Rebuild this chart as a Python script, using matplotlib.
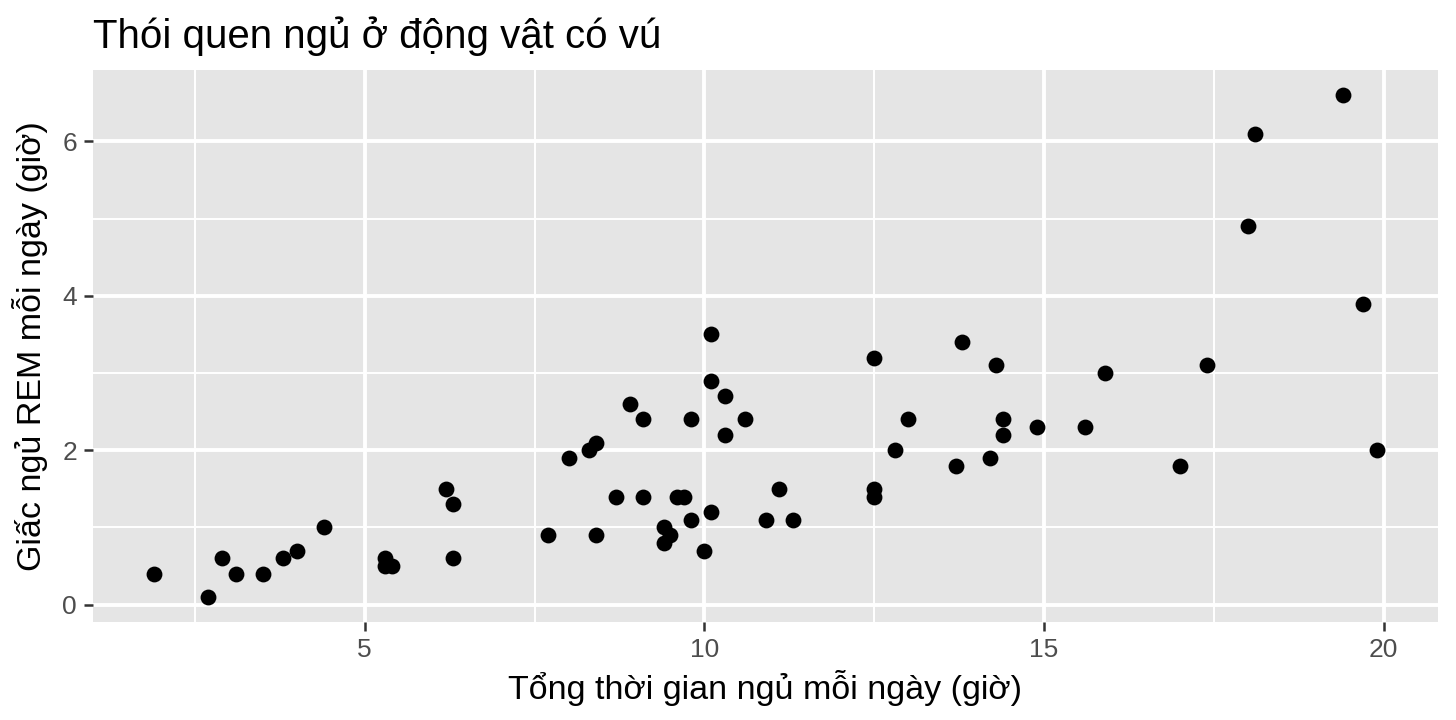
import matplotlib
matplotlib.use("Agg")
import matplotlib.pyplot as plt
from matplotlib.ticker import MultipleLocator

# msleep: tong thoi gian ngu va giac ngu REM (chi cac dong co REM)
sleep_total = [17.0, 14.4, 14.9, 4.0, 14.4, 8.7, 10.1, 5.3, 9.4, 10.0,
               12.5, 10.3, 8.3, 9.1, 17.4, 5.3, 18.0, 19.7, 2.9, 3.1,
               10.1, 10.9, 12.5, 9.8, 1.9, 2.7, 6.2, 6.3, 8.0, 9.5,
               19.4, 10.1, 14.2, 14.3, 12.5, 19.9, 7.7, 8.4, 3.8, 9.7,
               9.4, 10.3, 13.7, 3.5, 11.1, 18.1, 5.4, 13.0, 9.6, 8.4,
               11.3, 10.6, 13.8, 15.9, 12.8, 9.1, 4.4, 15.6, 8.9, 6.3,
               9.8]
sleep_rem = [1.8, 2.4, 2.3, 0.7, 2.2, 1.4, 2.9, 0.6, 0.8, 0.7,
             1.5, 2.2, 2.0, 1.4, 3.1, 0.5, 4.9, 3.9, 0.6, 0.4,
             3.5, 1.1, 3.2, 1.1, 0.4, 0.1, 1.5, 0.6, 1.9, 0.9,
             6.6, 1.2, 1.9, 3.1, 1.4, 2.0, 0.9, 0.9, 0.6, 1.4,
             1.0, 2.7, 1.8, 0.4, 1.5, 6.1, 0.5, 2.4, 1.4, 2.1,
             1.1, 2.4, 3.4, 3.0, 2.0, 2.4, 1.0, 2.3, 2.6, 1.3,
             2.4]

title = "Thói quen ngủ ở động vật có vú"
xlab = "Tổng thời gian ngủ mỗi ngày (giờ)"
ylab = "Giấc ngủ REM mỗi ngày (giờ)"

plt.rcParams['font.family'] = ['Liberation Sans', 'DejaVu Sans']

fig = plt.figure(figsize=(14.56, 7.2), dpi=100)
ax = fig.add_axes([93/1456, 1 - 622/720, (1438-93)/1456, (622-70)/720])
ax.set_facecolor('#E5E5E5')
for s in ax.spines.values():
    s.set_visible(False)

ax.scatter(sleep_total, sleep_rem, s=130, color='black', zorder=3, linewidths=0)

xr = max(sleep_total) - min(sleep_total)
yr = max(sleep_rem) - min(sleep_rem)
ax.set_xlim(min(sleep_total) - 0.05*xr, max(sleep_total) + 0.05*xr)
ax.set_ylim(min(sleep_rem) - 0.05*yr, max(sleep_rem) + 0.05*yr)

ax.xaxis.set_major_locator(MultipleLocator(5))
ax.xaxis.set_minor_locator(MultipleLocator(2.5))
ax.yaxis.set_major_locator(MultipleLocator(2))
ax.yaxis.set_minor_locator(MultipleLocator(1))
ax.grid(which='major', color='white', linewidth=2.8, zorder=0)
ax.grid(which='minor', color='white', linewidth=1.4, zorder=0)
ax.set_axisbelow(True)

ax.tick_params(which='major', length=6.5, width=1.8, color='#333333',
               labelsize=19, labelcolor='#4D4D4D', pad=5)
ax.tick_params(which='minor', length=0)

ax.set_xlabel(xlab, fontsize=24.5, labelpad=6)
ax.set_ylabel(ylab, fontsize=24.5, labelpad=10)
ax.set_title(title, fontsize=29, loc='left', pad=16)

fig.savefig("out.png", dpi=100)
